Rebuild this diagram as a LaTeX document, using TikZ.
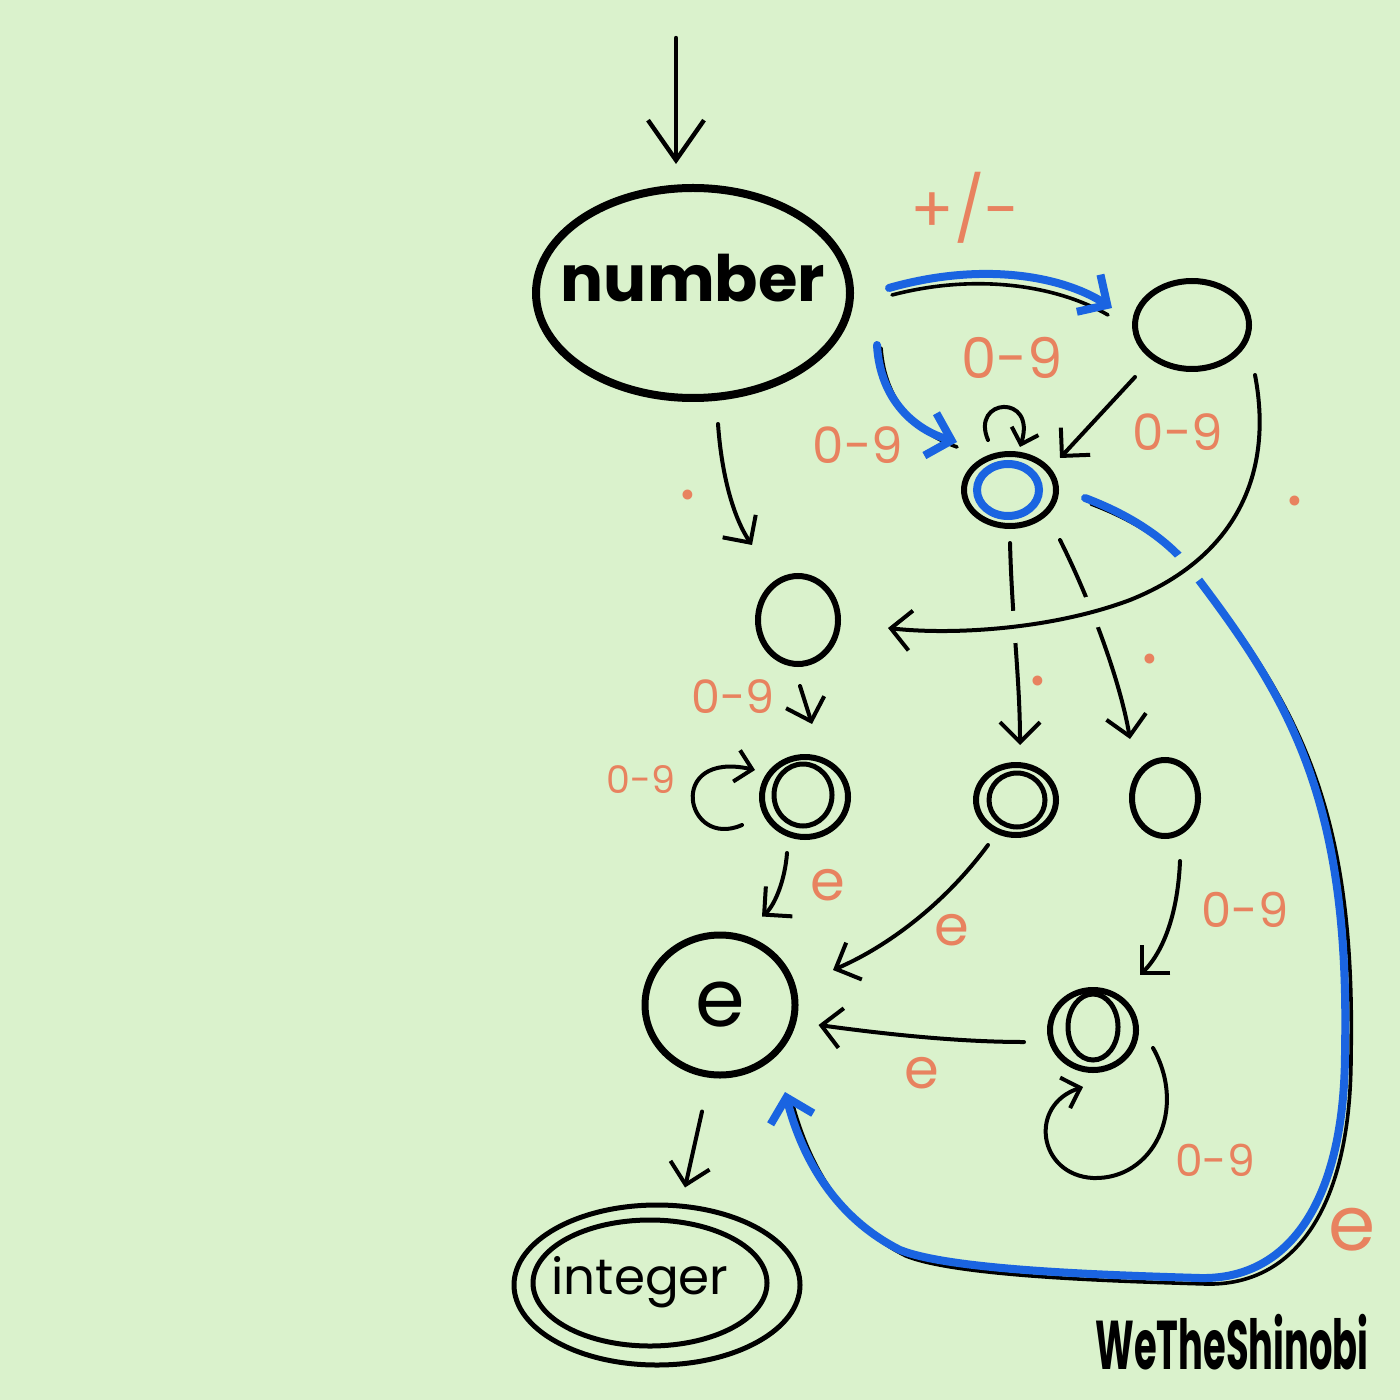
\documentclass[tikz,border=0pt]{standalone}
\usepackage{fontspec}
\setmainfont{Poppins}
\newfontfamily\wmfont[FakeStretch=0.8]{Poppins}
\usetikzlibrary{shapes.geometric,arrows.meta,calc}
\definecolor{bg}{HTML}{DAF2CC}
\definecolor{lblc}{HTML}{E8825F}
\definecolor{bl}{HTML}{1A64E1}
\newcommand\myfs[1]{\fontsize{#1pt}{#1pt}\selectfont}
\begin{document}
\begin{tikzpicture}[x=0.5pt,y=-0.5pt,
  st/.style={draw, ellipse, line width=3pt, inner sep=0pt},
  arr/.style={line width=2pt, line cap=round, -{Straight Barb[length=10pt,width=20pt,line width=2pt]}},
  barr/.style={draw=bl, line width=4pt, line cap=round, -{Straight Barb[length=11pt,width=22pt,line width=4pt]}},
  shadow/.style={line width=1.8pt, line cap=round},
  lbl/.style={text=lblc, inner sep=0pt},
  halo/.style={draw=bg, line width=16pt, shorten <=8pt, shorten >=8pt},
]
\fill[bg] (0,0) rectangle (1400,1400);
\useasboundingbox (0,0) rectangle (1400,1400);

% states
\node[st, line width=4pt, minimum width=157pt, minimum height=105pt] (number) at (693,293) {};
\node[font=\myfs{32}\bfseries] (numtxt) at (693,278) {number};
\node[st, minimum width=57pt, minimum height=44pt] (s1) at (1192,325) {};
\node[st, minimum width=46pt, minimum height=36pt] (s2) at (1010,490) {};
\node[st, draw=bl, line width=4pt, minimum width=31pt, minimum height=26pt] (s2in) at (1008,490) {};
\node[st, minimum width=40pt, minimum height=44pt] (s3) at (798,620) {};
\node[st, minimum width=43pt, minimum height=40pt] (s4) at (805,797) {};
\node[st, line width=2.5pt, minimum width=29pt, minimum height=31pt] (s4in) at (803,795) {};
\node[st, minimum width=40pt, minimum height=35pt] (s5) at (1016,800) {};
\node[st, line width=2.5pt, minimum width=28pt, minimum height=27pt] (s5in) at (1017,800) {};
\node[st, minimum width=33pt, minimum height=38pt] (s6) at (1165,798) {};
\node[st, line width=3.5pt, minimum width=75pt, minimum height=70pt, font=\myfs{40}] (e) at (720,1005) {e};
\node[st, minimum width=43pt, minimum height=40pt] (s7) at (1093,1030) {};
\node[st, line width=2.5pt, minimum width=25pt, minimum height=33pt] (s7in) at (1093,1027) {};
\node[st, line width=2.5pt, minimum width=143pt, minimum height=80pt] (integer) at (657,1285) {};
\node[st, line width=2.5pt, minimum width=117pt, minimum height=63pt] (intin) at (650,1283) {};
\node[font=\myfs{25}] (inttxt) at (640,1282) {integer};

% start arrow
\coordinate (in0) at (676,38);
\draw[line width=2.2pt, line cap=round, -{Straight Barb[length=20pt,width=28pt,line width=2.2pt]}] (in0) -- ($(number.north)+(-17,-20)$);

% number -> s1 (blue)
\draw[shadow] ($(number.east)+(38,2)$) .. controls (980,272) and (1060,287) .. ($(s1.west)+(-24,-10)$);
\draw[barr] ($(number.east)+(35,-5)$) .. controls (980,262) and (1060,275) .. ($(s1.west)+(-20,-17)$);

% number -> s2 (blue)
\draw[shadow] ($(number.east)+(27,55)$) .. controls (885,405) and (920,434) .. ($(s2.west)+(-4,-43)$);
\draw[barr] ($(number.east)+(23,52)$) .. controls (880,400) and (915,430) .. ($(s2.west)+(-4,-48)$);

% s1 -> s2
\draw[arr] ($(s1)+(-57,52)$) -- ($(s2)+(50,-32)$);
% s2 loop
\draw[arr, -{Straight Barb[length=7pt,width=14pt,line width=2pt]}] ($(s2)+(-22,-50)$) .. controls ($(s2)+(-40,-92)$) and ($(s2)+(27,-97)$) .. ($(s2)+(10,-43)$);

% number -> s3
\draw[arr] ($(number.south)+(25,22)$) .. controls (722,480) and (735,520) .. ($(s3.north)+(-46,-28)$);

% s2 -> s5, s2 -> s6
\draw[arr] ($(s2.south)+(0,14)$) .. controls (1012,620) and (1020,680) .. ($(s5.north)+(4,-17)$);
\draw[arr] ($(s2)+(50,50)$) .. controls (1090,600) and (1120,680) .. ($(s6.north)+(-35,-18)$);

% s2 -> e (blue, long)
\draw[shadow] ($(s2)+(81,14)$) .. controls (1136,521) and (1176,546) .. (1201,581) .. controls (1296,706) and (1356,806) .. (1351,1056) .. controls (1351,1206) and (1296,1286) .. (1206,1284) .. controls (1106,1281) and (956,1276) .. (906,1256) .. controls (836,1221) and (806,1156) .. ($(e)+(71,93)$);
\draw[barr] ($(s2)+(75,8)$) .. controls (1130,515) and (1170,540) .. (1195,575) .. controls (1290,700) and (1350,800) .. (1345,1050) .. controls (1345,1200) and (1290,1280) .. (1200,1278) .. controls (1100,1275) and (950,1270) .. (900,1250) .. controls (830,1215) and (800,1150) .. ($(e)+(65,87)$);

% s1 -> s3 (long, crossing over)
\draw[halo] ($(s1)+(63,50)$) .. controls (1275,480) and (1230,560) .. (1130,600) .. controls (1050,630) and (950,635) .. ($(s3.east)+(47,8)$);
\draw[arr] ($(s1)+(63,50)$) .. controls (1275,480) and (1230,560) .. (1130,600) .. controls (1050,630) and (950,635) .. ($(s3.east)+(47,8)$);

% s3 -> s4
\draw[arr] ($(s3.south)+(2,19)$) .. controls (806,705) .. ($(s4.north)+(7,-30)$);
% s4 loop
\draw[arr, -{Straight Barb[length=8pt,width=16pt,line width=2pt]}] ($(s4)+(-63,28)$) .. controls ($(s4)+(-120,53)$) and ($(s4)+(-140,-47)$) .. ($(s4)+(-50,-27)$);
% s4 -> e
\draw[arr] ($(s4.south)+(-18,13)$) .. controls (785,880) and (775,905) .. ($(e.north)+(42,-15)$);
% s5 -> e
\draw[arr] ($(s5)+(-28,45)$) .. controls (940,910) and (880,950) .. ($(e)+(113,-35)$);
% s6 -> s7
\draw[arr] ($(s6.south)+(15,22)$) .. controls (1178,910) and (1165,950) .. ($(s7)+(47,-55)$);
% s7 -> e
\draw[arr] ($(s7.west)+(-23,12)$) .. controls (950,1042) and (870,1032) .. ($(e.east)+(20,20)$);
% s7 loop
\draw[arr, -{Straight Barb[length=8pt,width=16pt,line width=2pt]}] ($(s7)+(60,18)$) .. controls ($(s7)+(95,80)$) and ($(s7)+(60,150)$) .. ($(s7)+(0,148)$) .. controls ($(s7)+(-55,145)$) and ($(s7)+(-65,75)$) .. ($(s7)+(-10,57)$);
% e -> integer
\draw[arr] ($(e.south)+(-18,33)$) -- ($(integer.north)+(28,-15)$);

% labels
\node[lbl, font=\myfs{32}] (lpm) at (965,208) {+/-};
\node[lbl, font=\myfs{28}] (l09a) at (1012,358) {0-9};
\node[lbl, font=\myfs{25}] (l09b) at (858,445) {0-9};
\node[lbl, font=\myfs{25}] (l09c) at (1178,432) {0-9};
\node[lbl, font=\myfs{23}] (l09d) at (733,697) {0-9};
\node[lbl, font=\myfs{19}] (l09e) at (641,780) {0-9};
\node[lbl, font=\myfs{24}] (l09f) at (1245,910) {0-9};
\node[lbl, font=\myfs{22}] (l09g) at (1215,1160) {0-9};
\node[lbl, font=\myfs{28}] (le1) at (828,885) {e};
\node[lbl, font=\myfs{28}] (le2) at (952,930) {e};
\node[lbl, font=\myfs{28}] (le3) at (922,1073) {e};
\node[lbl, font=\myfs{38}] (le4) at (1352,1230) {e};
\node[lbl, font=\myfs{40}, anchor=base] (d1) at (688,500) {.};
\node[lbl, font=\myfs{40}, anchor=base] (d2) at (1295,505) {.};
\node[lbl, font=\myfs{40}, anchor=base] (d3) at (1038,685) {.};
\node[lbl, font=\myfs{40}, anchor=base] (d4) at (1150,663) {.};

% watermark
\node[font=\wmfont\myfs{23}\bfseries, yscale=1.5, inner sep=0pt] (wm) at (1232,1342) {WeTheShinobi};
\end{tikzpicture}
\end{document}
